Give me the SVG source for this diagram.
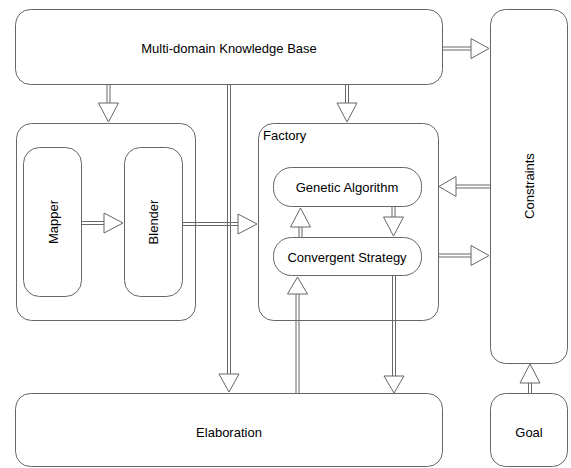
<svg xmlns="http://www.w3.org/2000/svg" width="571" height="468" viewBox="0 0 571 468">
<style>
.box{fill:#fff;stroke:#666;stroke-width:1}
.t{font-family:"Liberation Sans",Arial,sans-serif;font-size:13px;fill:#000}
.c{text-anchor:middle;dominant-baseline:central}
.sh{fill:none;stroke:#666;stroke-width:1}
.hd{fill:#fff;stroke:#666;stroke-width:1;stroke-linejoin:miter}
</style>
<rect width="571" height="468" fill="#fff"/>
<g id="kb"><rect class="box" x="15.5" y="9.5" width="427" height="75" rx="15"/><text class="t c" x="229" y="48">Multi-domain Knowledge Base</text></g>
<g id="constraints"><rect class="box" x="490.5" y="9.5" width="77" height="354" rx="15"/><text class="t c" transform="translate(529,186) rotate(-90)">Constraints</text></g>
<g id="group"><rect class="box" x="16.5" y="123.5" width="179" height="197" rx="15"/></g>
<g id="mapper"><rect class="box" x="23.5" y="147.5" width="58" height="149" rx="16"/><text class="t c" transform="translate(53,222) rotate(-90)">Mapper</text></g>
<g id="blender"><rect class="box" x="124.5" y="147.5" width="58" height="149" rx="16"/><text class="t c" transform="translate(153,222) rotate(-90)">Blender</text></g>
<g id="factory"><rect class="box" x="258.5" y="123.5" width="180" height="197" rx="15"/><text class="t" x="263" y="140">Factory</text></g>
<g id="ga"><rect class="box" x="273.5" y="167.5" width="148" height="39" rx="18"/><text class="t c" x="347" y="187">Genetic Algorithm</text></g>
<g id="cs"><rect class="box" x="273.5" y="237.5" width="148" height="38" rx="18"/><text class="t c" x="347" y="257">Convergent Strategy</text></g>
<g id="elaboration"><rect class="box" x="15.5" y="393.5" width="427" height="73" rx="15"/><text class="t c" x="229" y="432">Elaboration</text></g>
<g id="goal"><rect class="box" x="490.5" y="393.5" width="77" height="73" rx="15"/><text class="t c" x="529" y="432">Goal</text></g>
<g id="connectors">
<path class="sh" d="M442 47H471M442 50H471"/><polygon class="hd" points="471,38.5 489,48.5 471,58.5"/>
<path class="sh" d="M107 85V103M110 85V103"/><polygon class="hd" points="98.5,103 118.5,103 108.5,122"/>
<path class="sh" d="M345.5 85V103M348.5 85V103"/><polygon class="hd" points="337,103 357,103 347,122"/>
<path class="sh" d="M227.5 85V374M230.5 85V374"/><polygon class="hd" points="219,374 239,374 229,392"/>
<path class="sh" d="M82 221.5H104M82 224.5H104"/><polygon class="hd" points="104,213 123,223 104,233"/>
<path class="sh" d="M183 222.5H238M183 225.5H238"/><polygon class="hd" points="238,214 257,224 238,234"/>
<path class="sh" d="M490 185H456M490 188H456"/><polygon class="hd" points="456,176.5 439,186.5 456,196.5"/>
<path class="sh" d="M438 254H471M438 257H471"/><polygon class="hd" points="471,245.5 489,255.5 471,265.5"/>
<path class="sh" d="M299 237V227M302 237V227"/><polygon class="hd" points="290.5,227 310.5,227 300.5,208"/>
<path class="sh" d="M392 207V217M395 207V217"/><polygon class="hd" points="383.5,217 403.5,217 393.5,236"/>
<path class="sh" d="M296 393V294M299 393V294"/><polygon class="hd" points="287.5,294 307.5,294 297.5,277"/>
<path class="sh" d="M392.5 276V376M395.5 276V376"/><polygon class="hd" points="384,376 404,376 394,393"/>
<path class="sh" d="M528.5 393V383M531.5 393V383"/><polygon class="hd" points="520,383 540,383 530,364"/>
</g>
</svg>
